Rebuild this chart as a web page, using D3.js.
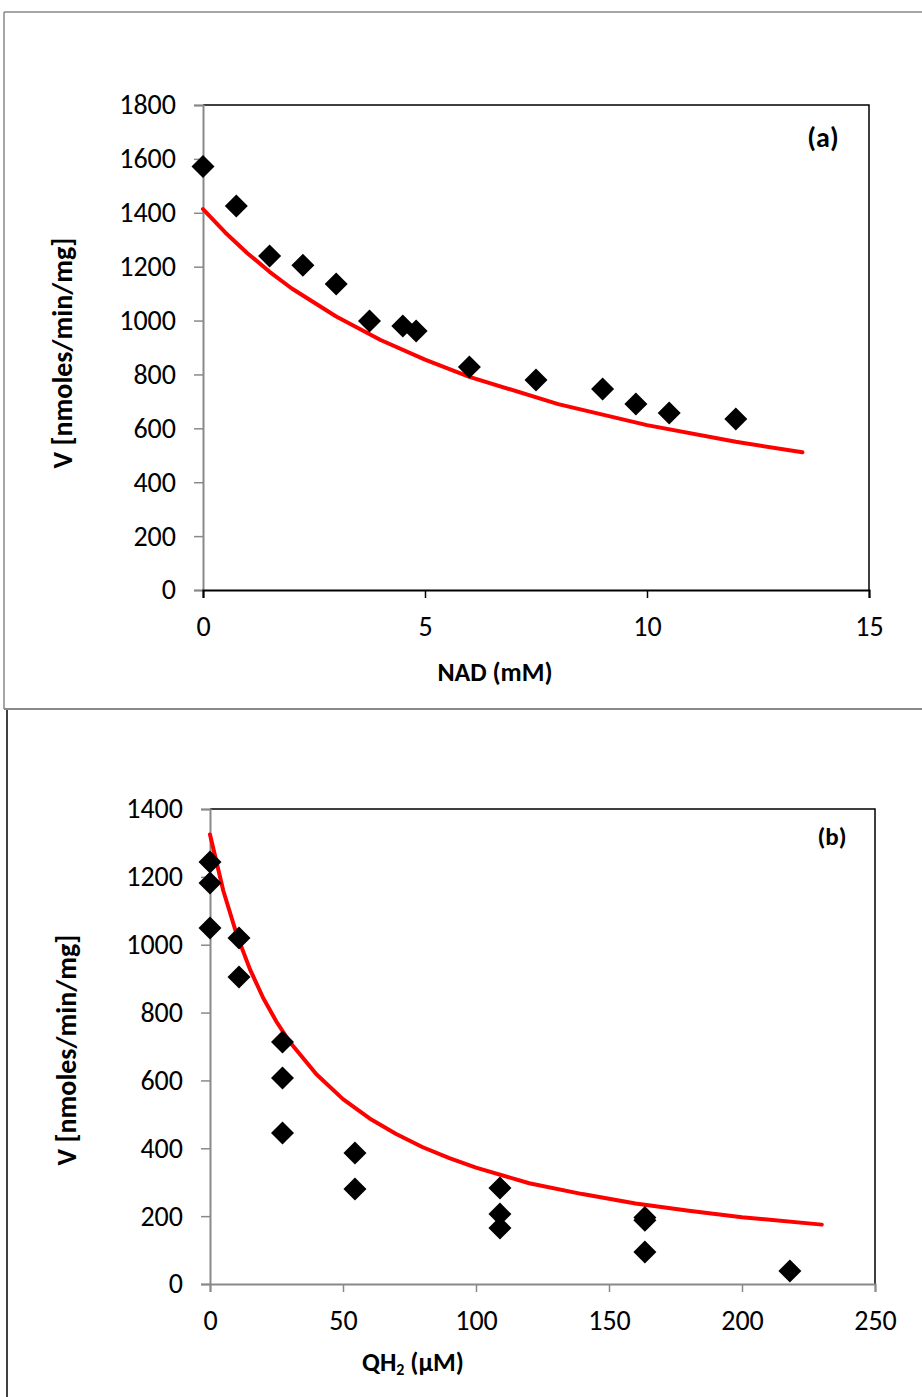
<!DOCTYPE html>
<html><head><meta charset="utf-8">
<script src="https://cdn.jsdelivr.net/npm/d3@7"></script>
<style>
html,body{margin:0;padding:0;background:#fff;}
svg{display:block;font-family:"Carlito","Liberation Sans",Arial,sans-serif;}
</style></head>
<body><svg id="c" width="922" height="1397"></svg>
<script>
// ---- Panel (a) data ----
const nadX = [0, 0.75, 1.5, 2.25, 3, 3.75, 4.5, 4.8, 6, 7.5, 9, 9.75, 10.5, 12];
const nadV = [1572, 1425, 1240, 1205, 1136, 998, 980, 961, 828, 779, 746, 690, 657, 635];
const nadFitX = [0, 0.5, 1, 1.5, 2, 3, 4, 5, 6, 8, 10, 12, 13.5];
const nadFitV = [1414, 1327, 1250, 1181, 1119, 1015, 928, 855, 791, 690, 612, 550, 511];
const aXTicks = [0, 5, 10, 15];
const aYTicks = [0, 200, 400, 600, 800, 1000, 1200, 1400, 1600, 1800];

// ---- Panel (b) data ----
const qhX = [0, 0, 0, 10.9, 10.9, 27.25, 27.25, 27.25, 54.5, 54.5, 109, 109, 109, 163.5, 163.5, 163.5, 218];
const qhV = [1244, 1182, 1049, 1020, 905, 713, 607, 445, 386, 280, 283, 206, 165, 188, 196, 94, 38];
const qhFitX = [0, 5, 10, 15, 20, 25, 30, 40, 50, 60, 70, 80, 90, 100, 120, 140, 160, 180, 200, 230];
const qhFitV = [1325, 1159, 1031, 928, 843, 773, 713, 618, 545, 488, 442, 403, 371, 343, 297, 265, 237, 216, 197, 175];
const bXTicks = [0, 50, 100, 150, 200, 250];
const bYTicks = [0, 200, 400, 600, 800, 1000, 1200, 1400];

const svg = d3.select("#c");
const gray = "#898989";

// panel frames
svg.append("line").attr("x1",4).attr("y1",12).attr("x2",922).attr("y2",12).attr("stroke",gray).attr("stroke-width",1.5);
svg.append("line").attr("x1",4).attr("y1",12).attr("x2",4).attr("y2",709).attr("stroke",gray).attr("stroke-width",1.5);
svg.append("line").attr("x1",4).attr("y1",709).attr("x2",922).attr("y2",709).attr("stroke",gray).attr("stroke-width",2);
svg.append("line").attr("x1",7).attr("y1",710).attr("x2",7).attr("y2",1397).attr("stroke","#000").attr("stroke-width",1.5);

function panel(cfg){
  const x = d3.scaleLinear().domain(cfg.xDom).range([cfg.left, cfg.right]);
  const y = d3.scaleLinear().domain(cfg.yDom).range([cfg.bottom, cfg.top]);
  const g = svg.append("g");
  // plot border (top & right black)
  g.append("path").attr("d",`M${cfg.left},${cfg.top}H${cfg.right}V${cfg.bottom}`)
    .attr("fill","none").attr("stroke","#000").attr("stroke-width",1.5);
  // y axis
  const ya = g.append("g").attr("transform",`translate(${cfg.left},0)`)
    .call(d3.axisLeft(y).tickValues(cfg.yTicks).tickSize(9).tickPadding(18).tickFormat(d3.format("d")));
  ya.attr("font-family",null);
  ya.select(".domain").attr("stroke",gray).attr("stroke-width",2);
  ya.selectAll(".tick line").attr("stroke",gray).attr("stroke-width",1.5);
  ya.selectAll("text").attr("font-size",28).attr("fill","#000");
  // x axis
  const xa = g.append("g").attr("transform",`translate(0,${cfg.bottom})`)
    .call(d3.axisBottom(x).tickValues(cfg.xTicks).tickSize(8).tickPadding(18).tickFormat(d3.format("d")));
  xa.attr("font-family",null);
  xa.select(".domain").attr("stroke",cfg.xAxisColor).attr("stroke-width",2);
  xa.selectAll(".tick line").attr("stroke",cfg.xAxisColor).attr("stroke-width",1.5);
  xa.selectAll("text").attr("font-size",28).attr("fill","#000");
  // fit line
  const line = d3.line().x((d,i)=>x(cfg.fitX[i])).y((d,i)=>y(cfg.fitV[i]));
  g.append("path").datum(cfg.fitV).attr("d",line).attr("fill","none")
    .attr("stroke","#ff0000").attr("stroke-width",4).attr("stroke-linejoin","round").attr("stroke-linecap","round");
  // markers
  const sym = d3.symbol().type(d3.symbolSquare).size(265);
  g.selectAll("path.pt").data(cfg.pV).enter().append("path").attr("class","pt")
    .attr("d",sym).attr("fill","#000")
    .attr("transform",(d,i)=>`translate(${x(cfg.pX[i])},${y(d)}) rotate(45)`);
  // label
  g.append("text").attr("x",cfg.lab[0]).attr("y",cfg.lab[1]).attr("text-anchor","middle")
    .attr("dominant-baseline","central").attr("font-weight","bold").attr("font-size",cfg.labFs).text(cfg.label);
  // y title
  g.append("text").attr("transform",`translate(${cfg.yTitle[0]},${cfg.yTitle[1]}) rotate(-90)`)
    .attr("text-anchor","middle").attr("dominant-baseline","central").attr("font-weight","bold")
    .attr("font-size",28).text("V [nmoles/min/mg]");
  return g;
}

const ga = panel({xDom:[0,15], yDom:[0,1800], left:203, right:869, top:105, bottom:590,
  xTicks:aXTicks, yTicks:aYTicks, fitX:nadFitX, fitV:nadFitV, pX:nadX, pV:nadV,
  xAxisColor:"#000", label:"(a)", lab:[823,137], labFs:28, yTitle:[62,353]});
ga.append("text").attr("x",495).attr("y",672).attr("text-anchor","middle").attr("dominant-baseline","central")
  .attr("font-weight","bold").attr("font-size",26).text("NAD (mM)");

const gb = panel({xDom:[0,250], yDom:[0,1400], left:210, right:875, top:809, bottom:1284,
  xTicks:bXTicks, yTicks:bYTicks, fitX:qhFitX, fitV:qhFitV, pX:qhX, pV:qhV,
  xAxisColor:gray, label:"(b)", lab:[832,836], labFs:25, yTitle:[66,1050]});
const bt = gb.append("text").attr("x",413).attr("y",1362).attr("text-anchor","middle").attr("dominant-baseline","central")
  .attr("font-weight","bold").attr("font-size",26);
bt.append("tspan").text("QH");
bt.append("tspan").attr("font-size",16).attr("dy",7).text("2");
bt.append("tspan").attr("dy",-7).text(" (µM)");
</script></body></html>
